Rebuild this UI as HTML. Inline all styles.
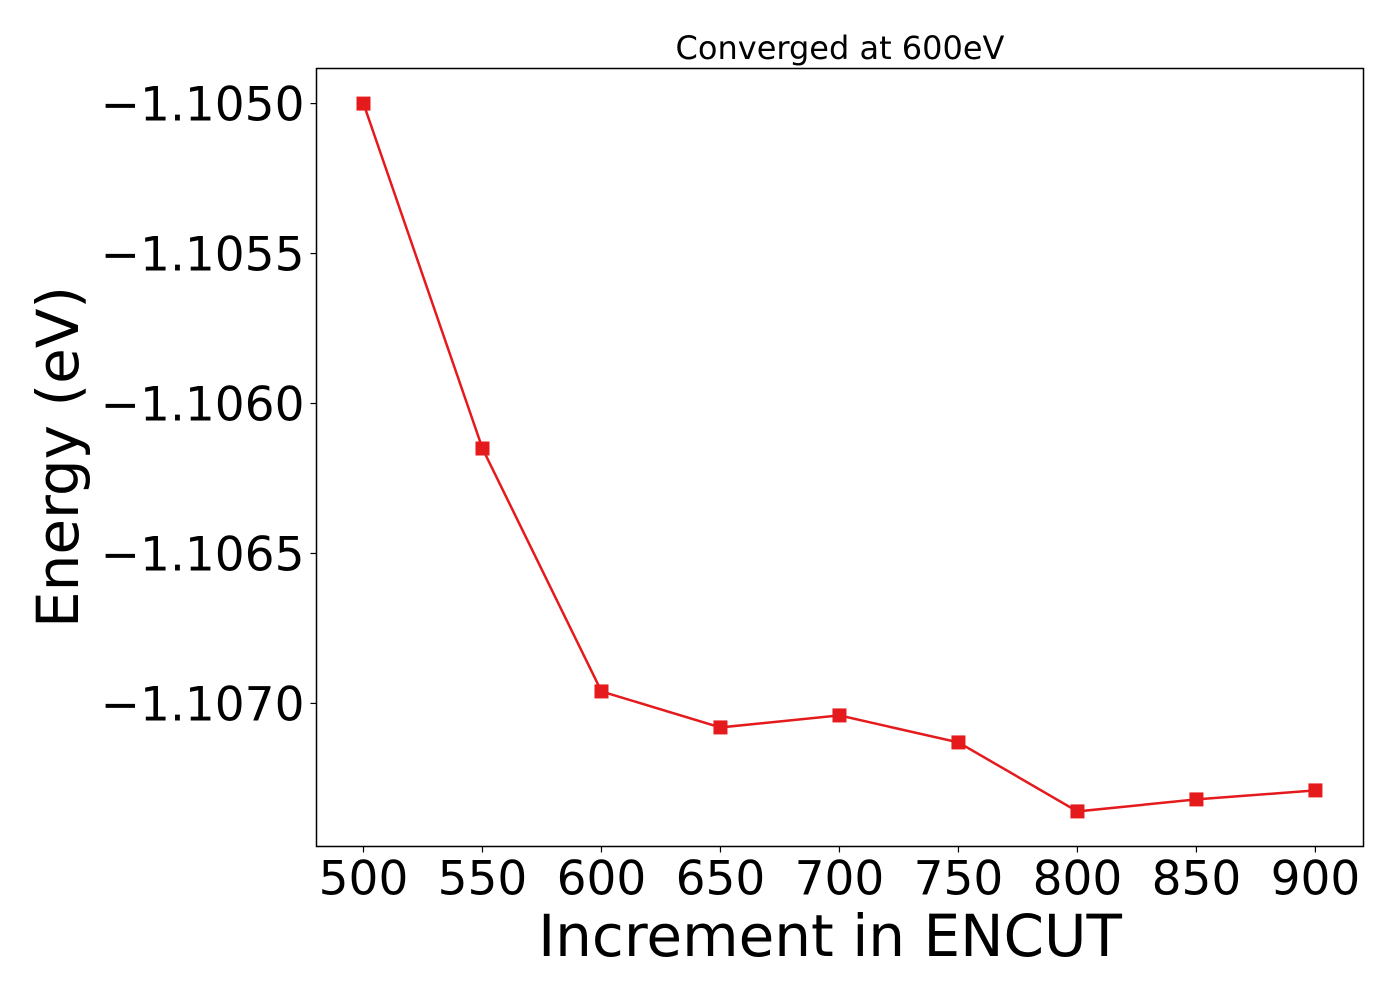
<!DOCTYPE html>
<html><head><meta charset="utf-8"><style>
html,body{margin:0;padding:0;background:#fff;}
svg{display:block;font-family:"DejaVu Sans","Liberation Sans",sans-serif;}
</style></head><body>
<svg id="chart" width="1400" height="1000">
<text x="840" y="59" font-size="32" text-anchor="middle">Converged at 600eV</text>
<g id="ticks"></g>
<polyline id="line" fill="none" stroke="#e41a1c" stroke-width="2.5"/>
<g id="marks"></g>
<rect x="316.5" y="68.5" width="1047" height="778" fill="none" stroke="#000" stroke-width="1.5"/>
<text x="830" y="956" font-size="58" text-anchor="middle">Increment in ENCUT</text>
<text transform="translate(78,457) rotate(-90)" font-size="58" text-anchor="middle">Energy (eV)</text>
</svg>
<script>
const encut = [500,550,600,650,700,750,800,850,900];
const energy = [-1.10500,-1.10615,-1.10696,-1.10708,-1.10704,-1.10713,-1.10736,-1.10732,-1.10729];
const xTicks = [500,550,600,650,700,750,800,850,900];
const yTicks = [-1.1050,-1.1055,-1.1060,-1.1065,-1.1070];
const L=316.5,R=1363.5,T=68.5,B=846.5;
const xMin=480.25,xMax=920.2,yMax=-1.104883,yMin=-1.107477;
const X=v=>L+(v-xMin)/(xMax-xMin)*(R-L);
const Y=v=>T+(yMax-v)/(yMax-yMin)*(B-T);
const NS='http://www.w3.org/2000/svg';
const tg=document.getElementById('ticks');
xTicks.forEach(v=>{
  const l=document.createElementNS(NS,'line');
  l.setAttribute('x1',X(v));l.setAttribute('x2',X(v));l.setAttribute('y1',B);l.setAttribute('y2',B+6);
  l.setAttribute('stroke','#000');l.setAttribute('stroke-width','1.2');
  
  
  tg.appendChild(l);
  const t=document.createElementNS(NS,'text');
  t.setAttribute('x',X(v));t.setAttribute('y',B+48);t.setAttribute('font-size','47');t.setAttribute('text-anchor','middle');
  t.textContent=v;
  
  
  tg.appendChild(t);
});
yTicks.forEach(v=>{
  const l=document.createElementNS(NS,'line');
  l.setAttribute('x1',L-6);l.setAttribute('x2',L);l.setAttribute('y1',Y(v));l.setAttribute('y2',Y(v));
  l.setAttribute('stroke','#000');l.setAttribute('stroke-width','1.2');
  
  
  tg.appendChild(l);
  const t=document.createElementNS(NS,'text');
  t.setAttribute('x',L-12);t.setAttribute('y',Y(v)+17);t.setAttribute('font-size','47');t.setAttribute('text-anchor','end');
  t.textContent='\u2212'+Math.abs(v).toFixed(4);
  
  
  tg.appendChild(t);
});
document.getElementById('line').setAttribute('points',encut.map((e,i)=>X(e)+','+Y(energy[i])).join(' '));
const mg=document.getElementById('marks');
encut.forEach((e,i)=>{
  const r=document.createElementNS(NS,'rect');
  r.setAttribute('x',X(e)-7);r.setAttribute('y',Y(energy[i])-7);r.setAttribute('width',14);r.setAttribute('height',14);
  r.setAttribute('fill','#e41a1c');
  
  
  mg.appendChild(r);
});
</script>
</body></html>
